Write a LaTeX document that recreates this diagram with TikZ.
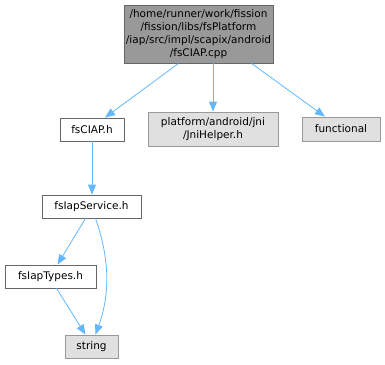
\documentclass[tikz,border=0pt]{standalone}
\usepackage{fontspec}
\setmainfont{DejaVu Sans}
\usetikzlibrary{arrows.meta}
\definecolor{edgec}{HTML}{63B8FF}
\definecolor{rootfill}{HTML}{999999}
\definecolor{rootline}{HTML}{666666}
\definecolor{sysfill}{HTML}{E0E0E0}
\definecolor{sysline}{HTML}{999999}
\definecolor{fileline}{HTML}{666666}
\tikzset{
  rootbox/.style={draw=rootline, fill=rootfill, line width=0.8pt, align=center,
                  inner sep=2pt, font=\fontsize{10.5}{13}\selectfont},
  filebox/.style={draw=fileline, fill=white, line width=0.8pt, align=center,
                  inner sep=2pt, minimum height=23pt, font=\fontsize{10.5}{13}\selectfont},
  sysbox/.style={draw=sysline, fill=sysfill, line width=0.8pt, align=center,
                 inner sep=2pt, font=\fontsize{10.5}{13}\selectfont},
  arr/.style={-{Triangle[length=10pt, width=8pt]}, draw=edgec, line width=0.8pt},
}
\begin{document}
\begin{tikzpicture}[x=1pt, y=-1pt]
  \useasboundingbox (0,0) rectangle (385,364);
  \node[rootbox, minimum width=147pt, minimum height=58pt] (root) at (198.5,34)
    {/home/runner/work/fission\\/fission/libs/fsPlatform\\/iap/src/impl/scapix/android\\/fsCIAP.cpp};
  \node[filebox, minimum width=64pt] (ciap) at (92,129.5) {fsCIAP.h};
  \node[sysbox, minimum width=130pt, minimum height=34pt] (jni) at (213,129)
    {platform/android/jni\\/JniHelper.h};
  \node[sysbox, minimum width=78pt, minimum height=24pt] (func) at (341,129) {functional};
  \node[filebox, minimum width=99pt] (service) at (91.5,206.5) {fsIapService.h};
  \node[filebox, minimum width=91pt] (types) at (50.5,276.5) {fsIapTypes.h};
  \node[sysbox, minimum width=53pt, minimum height=23pt] (str) at (91.5,346.5) {string};
  % edges
  \draw[arr] ([xshift=-20pt]root.south) -- ([xshift=13pt]ciap.north);
  \draw[arr] ([xshift=14.5pt]root.south) -- (jni.north);
  \draw[arr] ([xshift=53pt]root.south) -- ([xshift=-16pt]func.north);
  \draw[arr] (ciap.south) -- ([xshift=0.5pt]service.north);
  \draw[arr] ([xshift=-6pt]service.south) -- ([xshift=7pt]types.north);
  \draw[arr] ([xshift=6pt]types.south) -- ([xshift=-6pt]str.north);
  \draw[arr] ([xshift=4pt]service.south) .. controls (112,265) and (108,300) .. ([xshift=4pt]str.north);
\end{tikzpicture}
\end{document}
